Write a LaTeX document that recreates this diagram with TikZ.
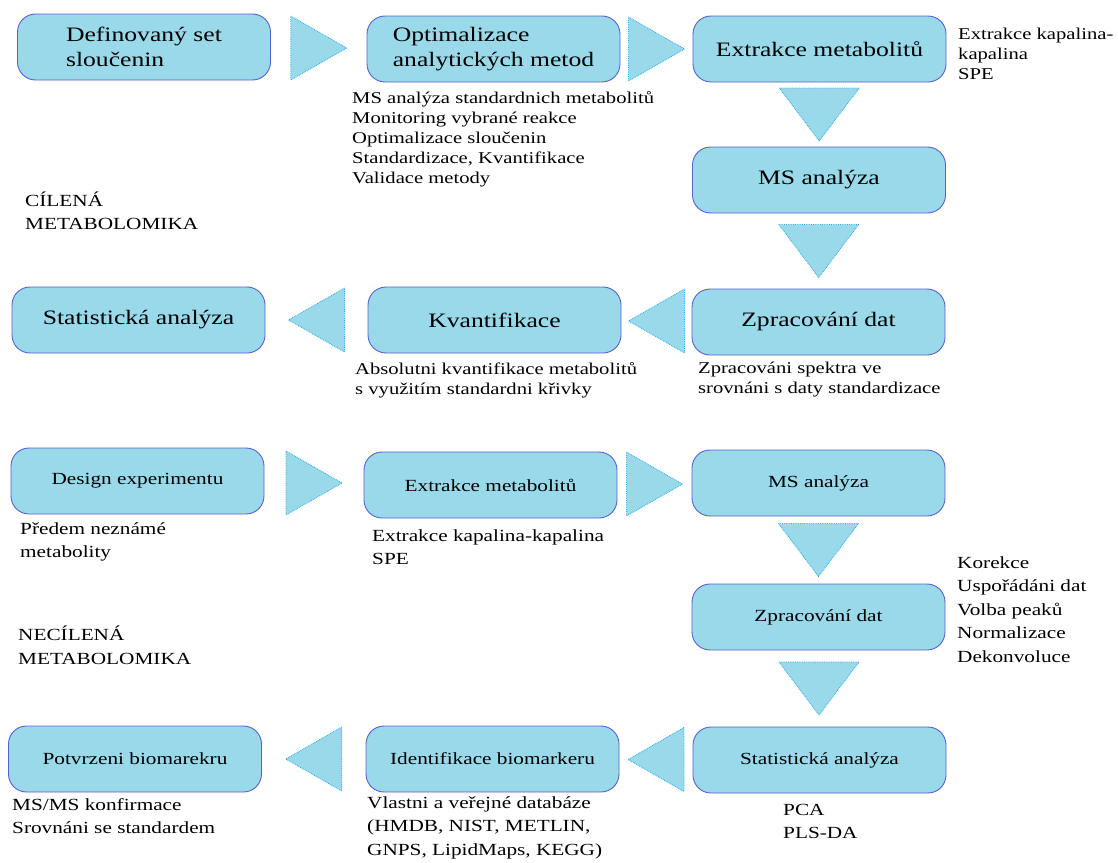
\documentclass[tikz,border=0pt]{standalone}
\usepackage{fontspec}
\setmainfont[FakeStretch=1.25]{Liberation Serif}
\usetikzlibrary{calc}

\definecolor{boxfill}{RGB}{153,217,234}
\definecolor{boxline}{RGB}{90,95,210}
\definecolor{triline}{RGB}{40,170,230}

\tikzset{
	stage/.style={draw=boxline, line width=0.9pt, fill=boxfill, rounded corners=18pt, minimum width=253pt, minimum height=66pt, align=left, font=\fontsize{20.5}{25}\selectfont},
	stagelow/.style={stage, font=\fontsize{17}{21}\selectfont},
	note/.style={anchor=north west, inner sep=0pt, align=left, font=\fontsize{16.5}{20}\selectfont},
	notelow/.style={note, font=\fontsize{17}{23.5}\selectfont},
	tri/.style={fill=boxfill, draw=triline, densely dotted, line width=0.8pt}
}

\begin{document}
\begin{tikzpicture}[x=1pt,y=-1pt]
		\useasboundingbox (0,0) rectangle (1118,862);
		% cilena metabolomika
		\node[stage] (defset) at (144,47) {Definovaný set\\sloučenin};
		\node[stage] (optim) at (493.5,49) {Optimalizace\\analytických metod};
		\node[stage] (extr) at (819.5,49) {Extrakce metabolitů};
		\node[stage] (ms) at (819,180) {MS analýza};
		\node[stage] (zprac) at (818.5,322) {Zpracování dat};
		\node[stage] (kvant) at (494.5,320) {Kvantifikace};
		\node[stage] (stat) at (138.5,320) {Statistická analýza};
		% necilena metabolomika
		\node[stagelow] (design) at (137.5,481) {Design experimentu};
		\node[stagelow] (extrlow) at (490.5,485) {Extrakce metabolitů};
		\node[stagelow] (mslow) at (818.5,483) {MS analýza};
		\node[stagelow] (zpraclow) at (818.5,617) {Zpracování dat};
		\node[stagelow] (statlow) at (819.5,760) {Statistická analýza};
		\node[stagelow] (ident) at (492.5,759) {Identifikace biomarkeru};
		\node[stagelow] (potvr) at (135,759) {Potvrzeni biomarekru};

		\foreach \a/\b in {defset/optim, optim/extr, design/extrlow, extrlow/mslow}
			\path[tri] ($(\a.east)!.5!(\b.west)$) +(-28,-32) -- +(28,0) -- +(-28,32) -- cycle;
		\foreach \a/\b in {zprac/kvant, kvant/stat, statlow/ident, ident/potvr}
			\path[tri] ($(\a.west)!.5!(\b.east)$) +(28,-32) -- +(-28,0) -- +(28,32) -- cycle;
		\foreach \a/\b in {extr/ms, ms/zprac, mslow/zpraclow, zpraclow/statlow}
			\path[tri] ($(\a.south)!.5!(\b.north)$) +(-40,-26.5) -- +(40,-26.5) -- +(0,26.5) -- cycle;

		\node[note] (optimnote) at (352,91) {MS analýza standardnich metabolitů\\Monitoring vybrané reakce\\Optimalizace sloučenin\\Standardizace, Kvantifikace\\Validace metody};
		\node[note] (extrnote) at (958,28) {Extrakce kapalina-\\kapalina\\SPE};
		\node[note, font=\fontsize{17}{23}\selectfont] (cilena) at (25,192) {CÍLENÁ\\METABOLOMIKA};
		\node[note] (kvantnote) at (355,362) {Absolutni kvantifikace metabolitů\\s využitím standardni křivky};
		\node[note] (zpracnote) at (698,362) {Zpracováni spektra ve\\srovnáni s daty standardizace};
		\node[notelow] (designnote) at (20,522) {Předem neznámé\\metabolity};
		\node[notelow] (extrlownote) at (372,529) {Extrakce kapalina-kapalina\\SPE};
		\node[notelow] (necilena) at (18,626) {NECÍLENÁ\\METABOLOMIKA};
		\node[notelow] (zpraclownote) at (957,556) {Korekce\\Uspořádáni dat\\Volba peaků\\Normalizace\\Dekonvoluce};
		\node[notelow] (potvrnote) at (12,798) {MS/MS konfirmace\\Srovnáni se standardem};
		\node[notelow] (identnote) at (367,796) {Vlastni a veřejné databáze\\(HMDB, NIST, METLIN,\\GNPS, LipidMaps, KEGG)};
		\node[notelow] (statnote) at (783,804) {PCA\\PLS-DA};
	\end{tikzpicture}
\end{document}
